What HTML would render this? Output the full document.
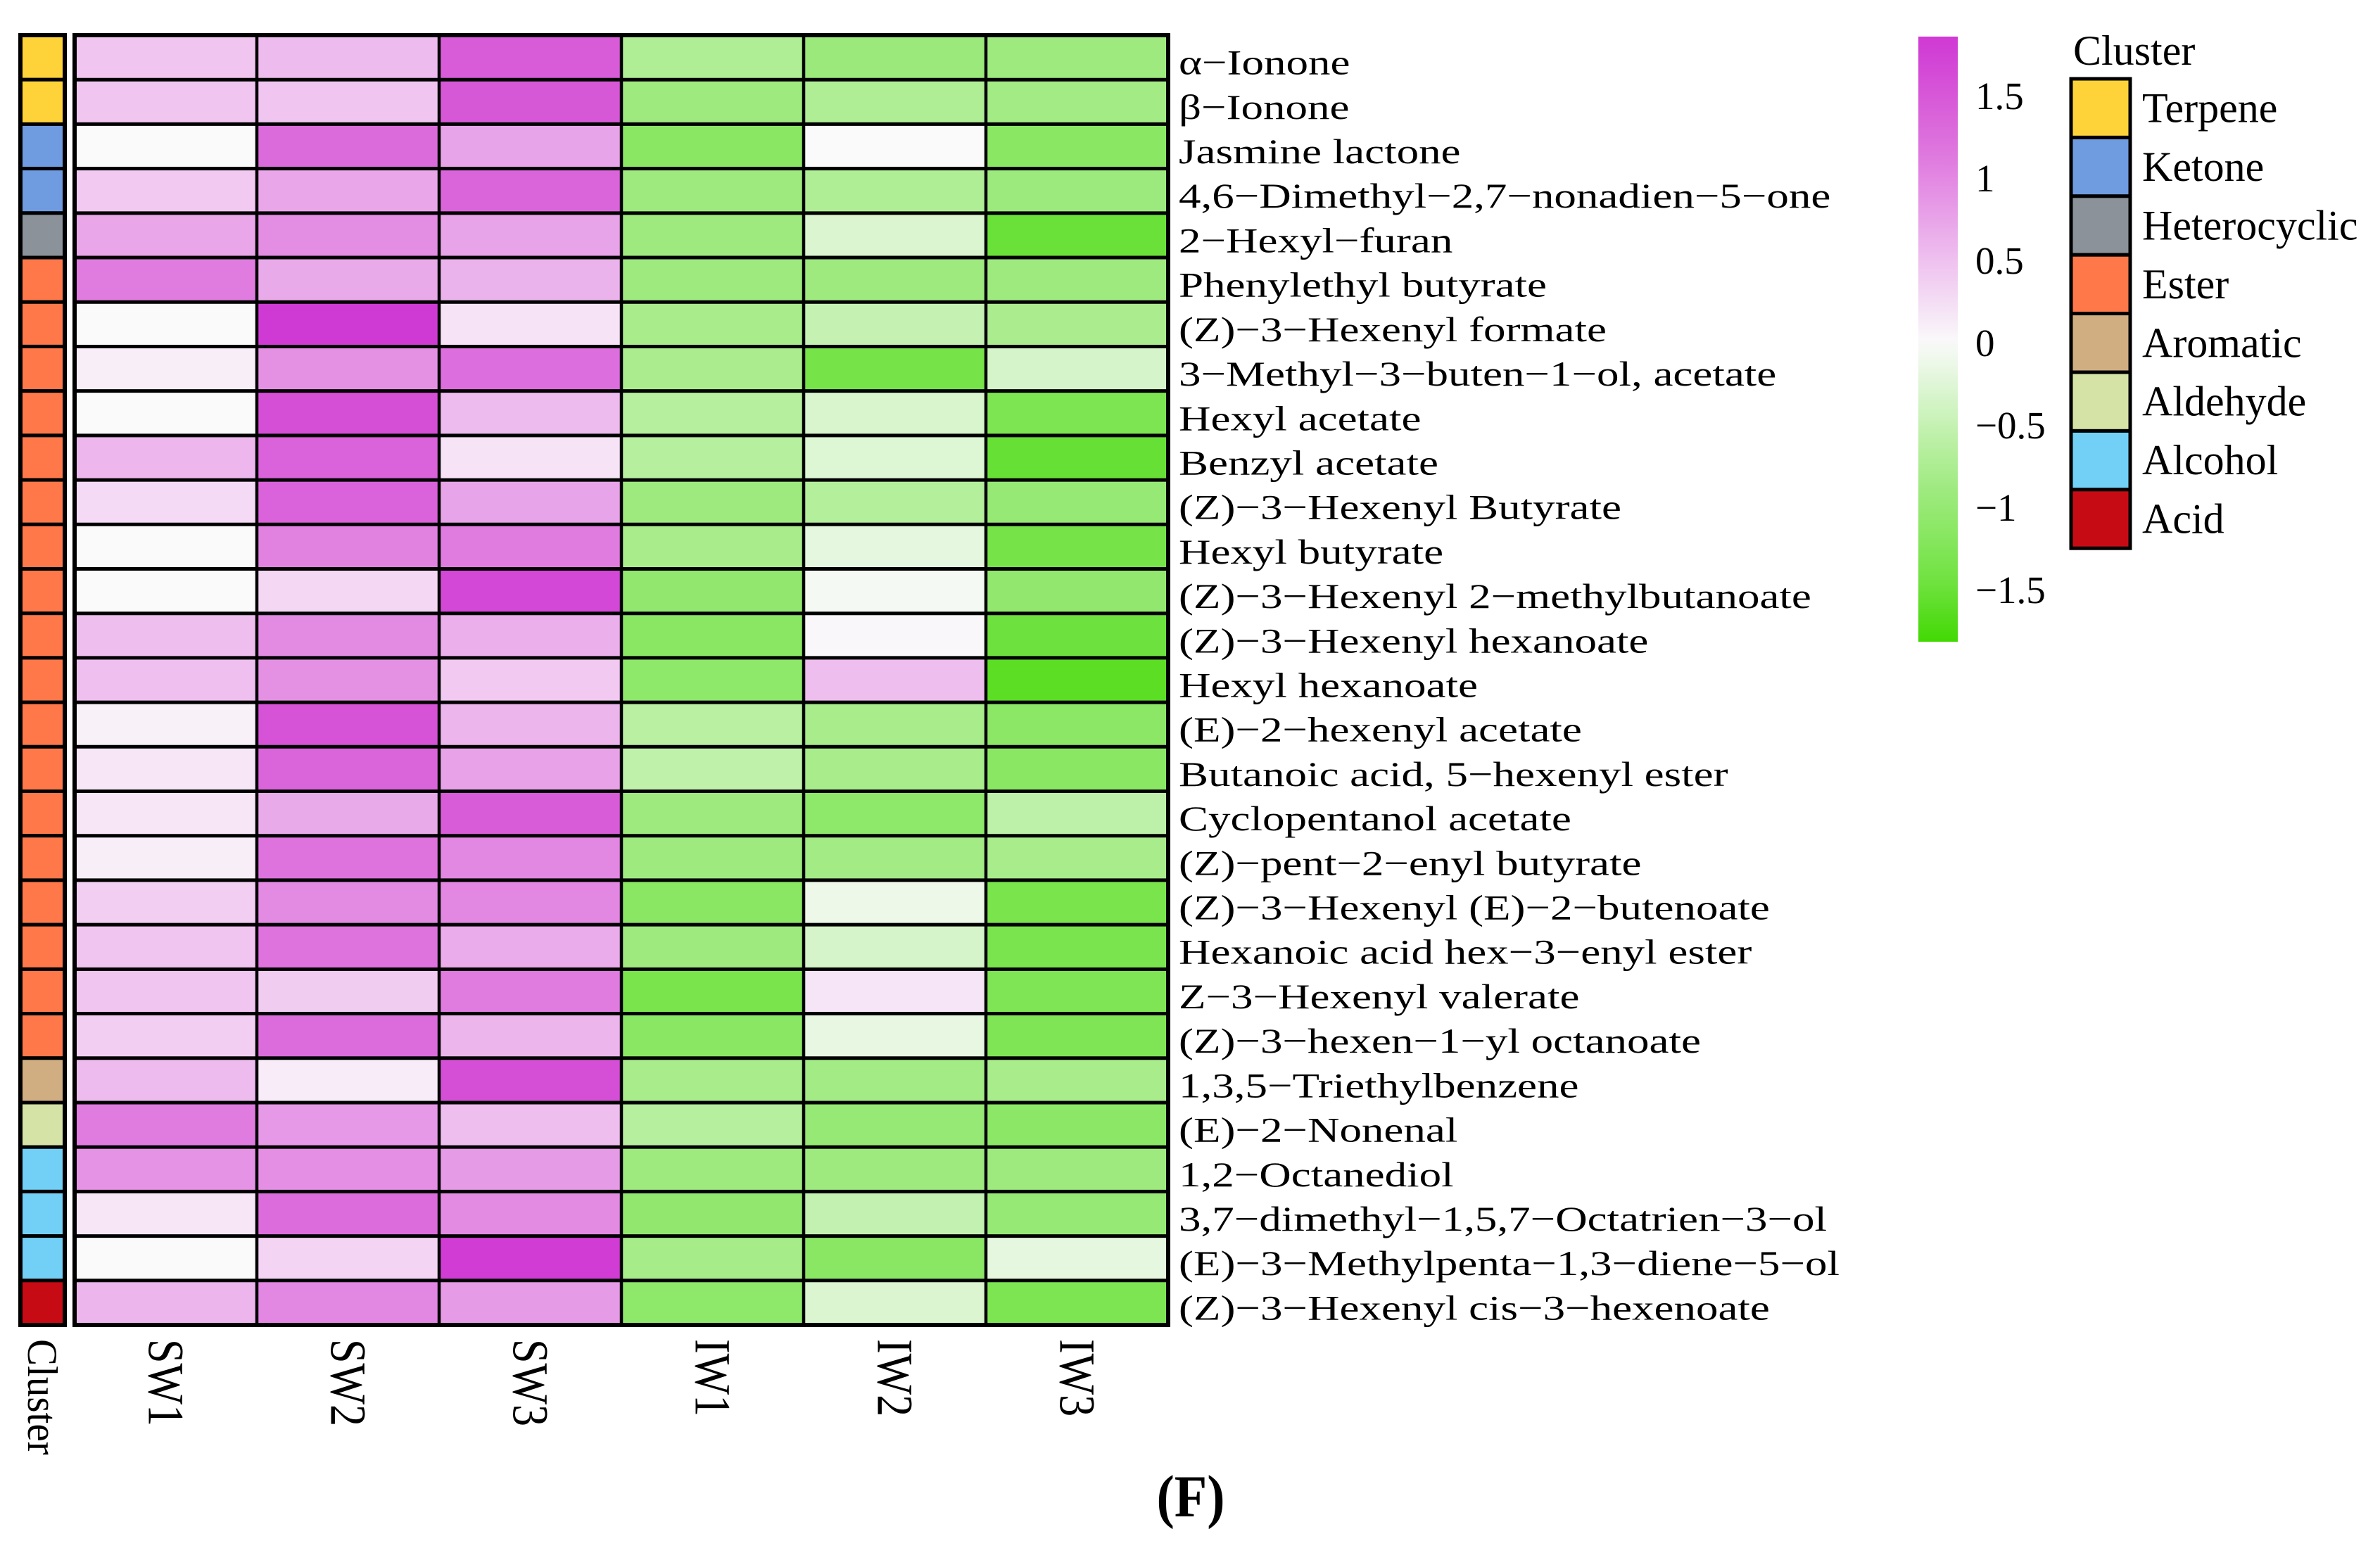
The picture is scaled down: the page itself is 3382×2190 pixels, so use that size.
<!DOCTYPE html>
<html><head><meta charset="utf-8"><style>
html,body{margin:0;padding:0;background:#fff;}
svg{display:block;font-family:"Liberation Serif","Times New Roman",serif;}
</style></head><body>
<svg id="chart" xmlns="http://www.w3.org/2000/svg" width="3382" height="2190" viewBox="0 0 3382 2190">
<rect x="0" y="0" width="3382" height="2190" fill="#fff"/>
<g id="cells"></g><g id="strip"></g><g id="grid"></g><g id="rowlabels"></g><g id="collabels"></g><g id="cbar"></g><g id="legend"></g>
<text x="1692" y="2155" text-anchor="middle" font-size="76" font-weight="bold" transform="translate(1692,2155) scale(1,1.12) translate(-1692,-2155)">(F)</text>
</svg>
<script>
const compounds=["α−Ionone","β−Ionone","Jasmine lactone","4,6−Dimethyl−2,7−nonadien−5−one","2−Hexyl−furan","Phenylethyl butyrate","(Z)−3−Hexenyl formate","3−Methyl−3−buten−1−ol, acetate","Hexyl acetate","Benzyl acetate","(Z)−3−Hexenyl Butyrate","Hexyl butyrate","(Z)−3−Hexenyl 2−methylbutanoate","(Z)−3−Hexenyl hexanoate","Hexyl hexanoate","(E)−2−hexenyl acetate","Butanoic acid, 5−hexenyl ester","Cyclopentanol acetate","(Z)−pent−2−enyl butyrate","(Z)−3−Hexenyl (E)−2−butenoate","Hexanoic acid hex−3−enyl ester","Z−3−Hexenyl valerate","(Z)−3−hexen−1−yl octanoate","1,3,5−Triethylbenzene","(E)−2−Nonenal","1,2−Octanediol","3,7−dimethyl−1,5,7−Octatrien−3−ol","(E)−3−Methylpenta−1,3−diene−5−ol","(Z)−3−Hexenyl cis−3−hexenoate"];
const samples=["SW1","SW2","SW3","IW1","IW2","IW3"];
const SW1=[.45,.45,0,.42,.73,1.1,0,.1,0,.58,.28,0,0,.52,.5,.08,.17,.17,.1,.38,.46,.46,.38,.55,1.1,.9,.17,0,.6];
const SW2=[.55,.45,1.3,.72,.95,.7,1.84,.92,1.6,1.38,1.38,1.05,.3,.98,.92,1.55,1.35,.7,1.2,.97,1.2,.4,1.28,.12,.85,.93,1.28,.33,1.0];
const SW3=[1.45,1.5,.75,1.35,.75,.62,.2,1.25,.55,.2,.75,1.1,1.68,.65,.42,.6,.76,1.45,1.0,1.0,.68,1.1,.6,1.6,.52,.83,.97,1.82,.83];
const IW1=[-.72,-.9,-1.15,-.9,-.9,-.9,-.8,-.78,-.65,-.65,-.9,-.8,-1.05,-1.15,-1.1,-.62,-.56,-.9,-.9,-1.15,-.9,-1.35,-1.15,-.8,-.65,-.9,-1.05,-.82,-1.1];
const IW2=[-.95,-.72,0,-.72,-.3,-.9,-.5,-1.38,-.32,-.27,-.67,-.2,-.05,.03,.52,-.8,-.8,-1.1,-.85,-.12,-.35,.18,-.18,-.85,-1.0,-.9,-.52,-1.15,-.3];
const IW3=[-.9,-.85,-1.15,-.92,-1.5,-.9,-.78,-.35,-1.3,-1.52,-1.0,-1.38,-1.05,-1.47,-1.62,-1.12,-1.15,-.58,-.8,-1.35,-1.33,-1.28,-1.28,-.8,-1.12,-.9,-1.0,-.2,-1.3];
const clusterOf=["Terpene","Terpene","Ketone","Ketone","Heterocyclic","Ester","Ester","Ester","Ester","Ester","Ester","Ester","Ester","Ester","Ester","Ester","Ester","Ester","Ester","Ester","Ester","Ester","Ester","Aromatic","Aldehyde","Alcohol","Alcohol","Alcohol","Acid"];
const clusterNames=["Terpene","Ketone","Heterocyclic","Ester","Aromatic","Aldehyde","Alcohol","Acid"];
const clusterColors=["#fed33a","#6f9be0","#8b9299","#fe784a","#d0ae82","#d6e3a6","#72d0f6","#c70b15"];
const ticks=[1.5,1,0.5,0,-0.5,-1,-1.5];
const tickLabels=["1.5","1","0.5","0","−0.5","−1","−1.5"];
const series=[SW1,SW2,SW3,IW1,IW2,IW3];

const NS="http://www.w3.org/2000/svg";
function mk(tag,attrs,parent){const e=document.createElementNS(NS,tag);for(const k in attrs)e.setAttribute(k,attrs[k]);parent.appendChild(e);return e;}
const stops=[[-1.84,[63,216,0]],[-1.45,[112,226,64]],[-1.15,[138,231,100]],[-0.9,[158,234,127]],[-0.65,[182,239,158]],[-0.3,[218,245,208]],[0,[250,250,250]],[0.45,[240,198,240]],[0.75,[232,164,232]],[1.1,[224,124,224]],[1.45,[216,92,216]],[1.84,[208,58,212]]];
function color(v){if(v<=stops[0][0])return rgb(stops[0][1]);for(let i=1;i<stops.length;i++){if(v<=stops[i][0]){const a=stops[i-1],b=stops[i];const t=(v-a[0])/(b[0]-a[0]);return rgb(a[1].map((c,j)=>c+(b[1][j]-c)*t));}}return rgb(stops[stops.length-1][1]);}
function rgb(c){return "rgb("+c.map(x=>Math.round(x)).join(",")+")";}

const X0=106,X1=1660,Y0=50,Y1=1883;
const nR=compounds.length,nC=samples.length;
const cw=(X1-X0)/nC,rh=(Y1-Y0)/nR;
const xS=i=>X0+i*cw, yS=r=>Y0+r*rh;
const cells=document.getElementById('cells');
series.forEach((arr,c)=>{arr.forEach((v,r)=>{
  const e=mk('rect',{x:xS(c),y:yS(r),width:cw,height:rh,fill:color(v)},cells);
  
  
});});
const grid=document.getElementById('grid');
for(let r=1;r<nR;r++)mk('line',{x1:X0,x2:X1,y1:yS(r),y2:yS(r),stroke:'#000','stroke-width':5},grid);
for(let c=1;c<nC;c++)mk('line',{x1:xS(c),x2:xS(c),y1:Y0,y2:Y1,stroke:'#000','stroke-width':4.5},grid);
mk('rect',{x:X0,y:Y0,width:X1-X0,height:Y1-Y0,fill:'none',stroke:'#000','stroke-width':6},grid);
// cluster strip
const strip=document.getElementById('strip');
const SX0=29,SX1=92;
clusterOf.forEach((cl,r)=>{
  const e=mk('rect',{x:SX0,y:yS(r),width:SX1-SX0,height:rh,fill:clusterColors[clusterNames.indexOf(cl)],stroke:'#000','stroke-width':5},strip);
  
  
});
mk('rect',{x:SX0,y:Y0,width:SX1-SX0,height:Y1-Y0,fill:'none',stroke:'#000','stroke-width':6},strip);
// row labels
const rl=document.getElementById('rowlabels');
compounds.forEach((n,r)=>{
  const y=yS(r)+rh/2+24;
  const t=mk('text',{x:0,y:0,'font-size':50,transform:'translate(1675,'+y+') scale(1.26,1)'},rl);
  t.textContent=n;
  
  
});
// column labels
const cl=document.getElementById('collabels');
samples.forEach((s,c)=>{
  const cx=xS(c)+cw/2;
  const t=mk('text',{x:0,y:0,'font-size':62,'dominant-baseline':'central',transform:'translate('+cx+',1903) rotate(90) scale(1,1.17)'},cl);
  t.textContent=s;
  
  
});
const ct=mk('text',{x:0,y:0,'font-size':57,'dominant-baseline':'central',transform:'translate(60,1903) rotate(90) scale(1,1.05)'},cl);
ct.textContent='Cluster';


// colorbar
const cb=document.getElementById('cbar');
const CB0=52,CB1=912,CBZ=487,CBU=234;
const vTop=(CBZ-CB0)/CBU, vBot=-(CB1-CBZ)/CBU;
const defs=mk('defs',{},cb);
const lg=mk('linearGradient',{id:'cg',x1:0,y1:0,x2:0,y2:1},defs);
for(let i=0;i<=40;i++){const v=vTop+(vBot-vTop)*i/40;mk('stop',{offset:(i/40),'stop-color':color(v)},lg);}
const bar=mk('rect',{x:2726,y:CB0,width:56,height:CB1-CB0,fill:'url(#cg)'},cb);


ticks.forEach((v,i)=>{
  const t=mk('text',{x:2807,y:CBZ-v*CBU+19,'font-size':55},cb);
  t.textContent=tickLabels[i];
  
  
});
// legend
const lgd=document.getElementById('legend');
const lt=mk('text',{x:2946,y:92,'font-size':60},lgd);
lt.textContent='Cluster';


const LB0=112,LBH=83.4;
clusterNames.forEach((n,i)=>{
  const b=mk('rect',{x:2943,y:LB0+i*LBH,width:84,height:LBH,fill:clusterColors[i],stroke:'#000','stroke-width':5},lgd);
  
  
  const t=mk('text',{x:3044,y:LB0+i*LBH+LBH/2+20,'font-size':60},lgd);
  t.textContent=n;
  
  
});
</script>
</body></html>
